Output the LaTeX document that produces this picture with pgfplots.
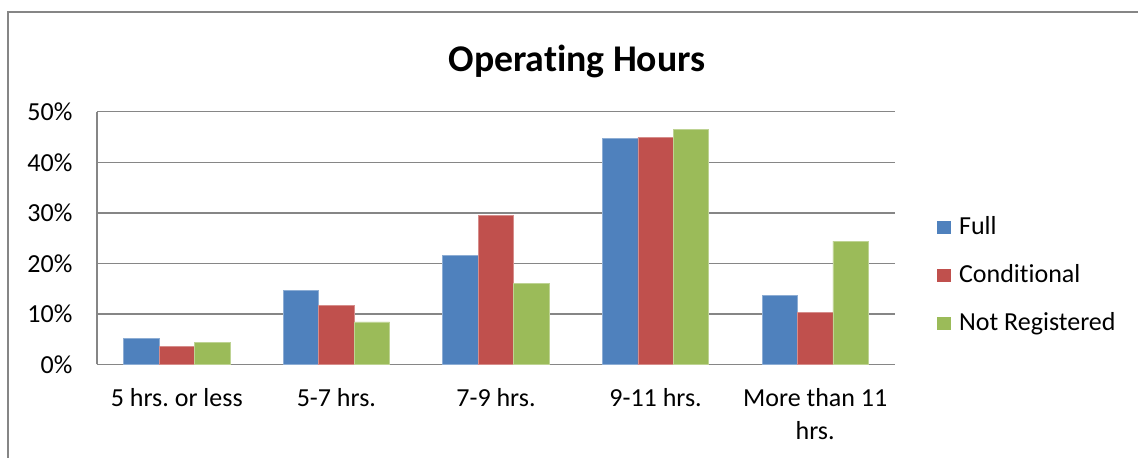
\documentclass[border=0pt]{standalone}
\usepackage{pgfplots}
\pgfplotsset{compat=1.18}
\usepackage{fontspec}
\setmainfont{Carlito}[Ligatures={NoCommon}]
\frenchspacing

\definecolor{fullc}{HTML}{4F81BD}
\definecolor{condc}{HTML}{C0504D}
\definecolor{notregc}{HTML}{9BBB59}
\definecolor{gridc}{HTML}{868686}

\begin{document}
\begin{tikzpicture}
% page: 853.5pt x 342.75pt
\useasboundingbox (0,0) rectangle (853.5pt,342.75pt);
% chart-area border (left and top edges)
\draw[gridc, line width=1.1pt] (6pt,-5pt) -- (6pt,333.75pt) -- (860pt,333.75pt);
% title
\node[font=\fontsize{28.3}{33}\selectfont\bfseries] at (432.75pt,297pt) {Operating Hours};

\begin{axis}[
  at={(72.75pt,69.5pt)}, anchor=south west,
  width=598.5pt, height=189.45pt, scale only axis,
  ybar=0pt, bar width=26.6pt,
  xmin=-0.5, xmax=4.5, ymin=0, ymax=50,
  xtick={0,1,2,3,4},
  xticklabels={5 hrs. or less, 5-7 hrs., 7-9 hrs., 9-11 hrs., {More than 11\\hrs.}},
  ytick={0,10,20,30,40,50},
  yticklabels={0\%,10\%,20\%,30\%,40\%,50\%},
  axis x line*=bottom, axis y line*=left,
  axis line style={gridc, line width=1.1pt, -},
  major tick length=0pt,
  ymajorgrids, grid style={gridc, line width=1.1pt},
  tick label style={font=\fontsize{19.5}{24.75}\selectfont},
  xticklabel style={anchor=north, align=center, inner sep=0pt, yshift=-17.8pt},
  yticklabel style={anchor=east, inner sep=0pt, xshift=-18.3pt},
  legend style={at={(1.052,0.349)}, anchor=west, draw=none, fill=none,
    inner sep=0pt, row sep=19pt,
    nodes={inner sep=0pt, text height=13pt, text depth=4pt,
      font=\fontsize{19.5}{24}\selectfont}},
  legend cell align=left,
  legend image code/.code={%
    \fill[#1,draw=none] (0pt,-4.6pt) rectangle (11pt,5.4pt);
    \path (16.5pt,0pt);},
]
\addplot[fill=fullc, draw=fullc!65!white, line width=0.5pt]
  coordinates {(0,5.15) (1,14.7) (2,21.6) (3,44.7) (4,13.7)};
\addplot[fill=condc, draw=condc!65!white, line width=0.5pt]
  coordinates {(0,3.5) (1,11.6) (2,29.4) (3,44.9) (4,10.2)};
\addplot[fill=notregc, draw=notregc!65!white, line width=0.5pt]
  coordinates {(0,4.4) (1,8.4) (2,16.0) (3,46.5) (4,24.4)};
\legend{Full, Conditional, Not Registered}
\end{axis}
\end{tikzpicture}
\end{document}
